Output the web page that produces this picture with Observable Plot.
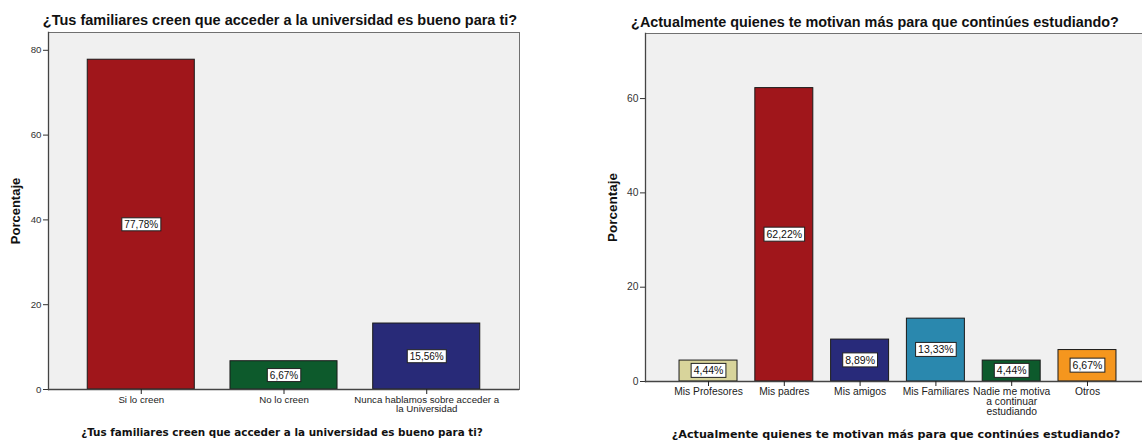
<!DOCTYPE html>
<html>
<head>
<meta charset="utf-8">
<script src="https://cdn.jsdelivr.net/npm/d3@7"></script>
<script src="https://cdn.jsdelivr.net/npm/@observablehq/plot@0.6"></script>
<style>
  html, body { margin: 0; padding: 0; background: #fff; overflow: hidden; }
  #wrap { position: relative; width: 1142px; height: 442px; overflow: hidden; }
  .chart { position: absolute; top: 0; max-width: none !important; }
  .title { position: absolute; width: 700px; text-align: center; white-space: nowrap; color: #111; }
  .top { font-family: "Liberation Sans", Arial, sans-serif; font-weight: bold; }
  .bottom { font-family: "DejaVu Sans", Verdana, sans-serif; font-weight: bold; }
</style>
</head>
<body>
<div id="wrap"></div>
<script>
// Pregunta 1: opinión de los familiares
const famCategories = ["Si lo creen", "No lo creen", "Nunca hablamos"];
const famTickLabels = ["Si lo creen", "No lo creen", "Nunca hablamos sobre acceder a\nla Universidad"];
const famValues = [77.78, 6.67, 15.56];
const famColors = ["#A0161B", "#0D5A2C", "#282A78"];
const famYTicks = [0, 20, 40, 60, 80];

// Pregunta 2: quién motiva a seguir estudiando
const motCategories = ["Mis Profesores", "Mis padres", "Mis amigos", "Mis Familiares", "Nadie", "Otros"];
const motTickLabels = ["Mis Profesores", "Mis padres", "Mis amigos", "Mis Familiares", "Nadie me motiva\na continuar\nestudiando", "Otros"];
const motValues = [4.44, 62.22, 8.89, 13.33, 4.44, 6.67];
const motColors = ["#D8D49B", "#A0161B", "#282A7A", "#2A88AE", "#0D5A2C", "#F5961E"];
const motYTicks = [0, 20, 40, 60];

const pct = v => v.toFixed(2).replace(".", ",") + "%";

function barChart({categories, tickLabels, values, colors, yTicks, yMax, width, marginLeft, marginRight, marginTop, marginBottom, paddingInner, paddingOuter, tickFont, valueFont, yTitleFont}) {
  const rows = categories.map((c, i) => ({cat: c, value: values[i], color: colors[i]}));
  const tickMap = new Map(categories.map((c, i) => [c, tickLabels[i]]));
  return Plot.plot({
    width, height: 442,
    marginLeft, marginRight, marginTop, marginBottom,
    style: {fontFamily: "'Liberation Sans', Arial, sans-serif", background: "transparent"},
    x: {domain: categories, paddingInner, paddingOuter, round: false, label: null},
    y: {domain: [0, yMax], label: null},
    marks: [
      Plot.frame({fill: "#F0F0F0", stroke: "#707070"}),
      Plot.barY(rows, {x: "cat", y: "value", fill: "color", stroke: "#1a1a1a", strokeWidth: 1}),
      Plot.ruleY([0], {stroke: "#444", strokeWidth: 1.3}),
      Plot.frame({anchor: "left", stroke: "#444", strokeWidth: 1.3}),
      Plot.axisY({ticks: yTicks, tickSize: 5, tickPadding: 2, fontSize: tickFont, color: "#333", label: null}),
      Plot.axisX({tickSize: 5, tickPadding: 2, fontSize: tickFont, color: "#222", lineHeight: 0.95,
                  tickFormat: d => tickMap.get(d), label: null}),
      Plot.text(["Porcentaje"], {frameAnchor: "left", textAnchor: "middle", rotate: -90, dx: -33,
                                 fontWeight: "bold", fontSize: yTitleFont, fill: "#111"}),
      Plot.text(rows, {x: "cat", y: d => d.value / 2, text: d => pct(d.value), fontSize: valueFont, fill: "#111", className: "vlabel"})
    ]
  });
}

const wrap = document.getElementById("wrap");

function place(svg, left) {
  svg.classList.add("chart");
  svg.style.left = left + "px";
  wrap.appendChild(svg);
  // white boxes behind the value labels
  svg.querySelectorAll(".vlabel text").forEach(t => {
    const b = t.getBBox();
    const r = document.createElementNS("http://www.w3.org/2000/svg", "rect");
    r.setAttribute("x", b.x - 2.5);
    r.setAttribute("y", b.y - 1);
    r.setAttribute("width", b.width + 5);
    r.setAttribute("height", b.height + 2);
    r.setAttribute("fill", "#fff");
    r.setAttribute("stroke", "#222");
    r.setAttribute("stroke-width", 1);
    const tr = t.getAttribute("transform");
    if (tr) r.setAttribute("transform", tr);
    t.parentNode.insertBefore(r, t);
  });
}

function title(text, cls, size, centerX, centerY) {
  const d = document.createElement("div");
  d.className = "title " + cls;
  d.style.fontSize = size + "px";
  d.textContent = text;
  d.style.left = (centerX - 350) + "px";
  wrap.appendChild(d);
  d.style.top = (centerY - d.offsetHeight / 2) + "px";
}

place(barChart({
  categories: famCategories, tickLabels: famTickLabels, values: famValues, colors: famColors,
  yTicks: famYTicks, yMax: 84.2, width: 530,
  marginLeft: 48, marginRight: 11, marginTop: 32, marginBottom: 53,
  paddingInner: 0.25, paddingOuter: 0.275, tickFont: 9.7, valueFont: 10, yTitleFont: 13
}), 0);

place(barChart({
  categories: motCategories, tickLabels: motTickLabels, values: motValues, colors: motColors,
  yTicks: motYTicks, yMax: 73.8, width: 600,
  marginLeft: 85, marginRight: 10, marginTop: 33, marginBottom: 61,
  paddingInner: 0.235, paddingOuter: 0.449, tickFont: 10.3, valueFont: 10.5, yTitleFont: 13.5
}), 560);

const q1 = "¿Tus familiares creen que acceder a la universidad es bueno para ti?";
const q2 = "¿Actualmente quienes te motivan más para que continúes estudiando?";
title(q1, "top", 14.5, 280, 20);
title(q2, "top", 14.4, 875, 22);
title(q1, "bottom", 10.4, 282, 432);
title(q2, "bottom", 11.2, 896, 434);
</script>
</body>
</html>
